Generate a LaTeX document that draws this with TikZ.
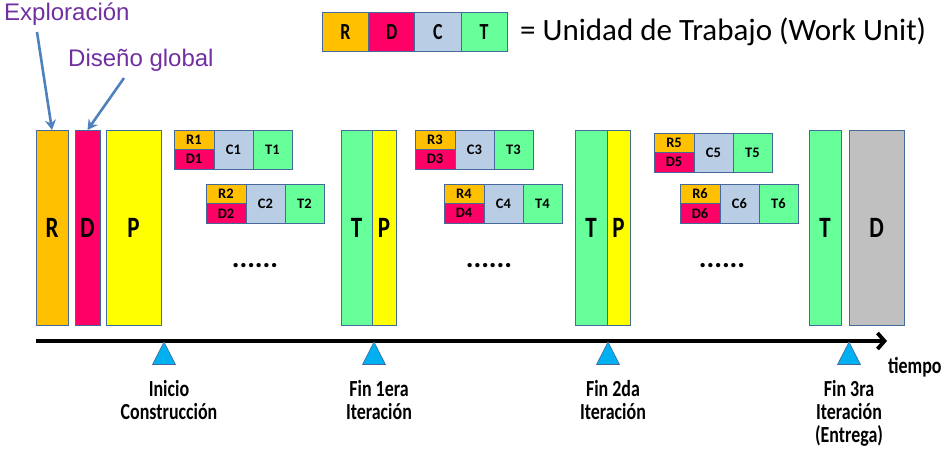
\documentclass[tikz,border=0pt]{standalone}
\usepackage{fontspec}
\setmainfont{Carlito}
\newfontfamily\condfont[FakeStretch=0.78]{Carlito}
\newfontfamily\arialfont{Liberation Sans}
\usetikzlibrary{positioning, arrows.meta}
\definecolor{orangeR}{RGB}{255,192,0}
\definecolor{magentaD}{RGB}{255,0,102}
\definecolor{blueC}{RGB}{185,205,229}
\definecolor{greenT}{RGB}{102,255,153}
\definecolor{yellowP}{RGB}{255,255,0}
\definecolor{greyD}{RGB}{192,192,192}
\definecolor{boxline}{RGB}{70,105,155}
\definecolor{skyblue}{RGB}{0,176,240}
\definecolor{purpletxt}{RGB}{112,48,160}
\definecolor{arrowblue}{RGB}{79,129,189}
\tikzset{
  wubox/.style={draw=boxline, line width=0.9pt, inner sep=0pt, outer sep=0pt, align=center,
    font=\bfseries\fontsize{14.5}{14.5}\selectfont},
  wuhalf/.style={wubox, minimum width=40pt, minimum height=19.5pt},
  wufull/.style={wubox, minimum width=39pt, minimum height=39pt},
  bar/.style={wubox, minimum height=195.5pt, font=\condfont\bfseries\fontsize{29.5}{29.5}\selectfont},
  legbox/.style={wubox, minimum width=46.25pt, minimum height=39.4pt,
    font=\condfont\bfseries\fontsize{23}{23}\selectfont},
  milestone/.style={draw=boxline, line width=0.6pt, fill=skyblue},
  milelabel/.style={align=center, inner sep=0pt, font=\condfont\bfseries\fontsize{23}{23}\selectfont},
  phasetxt/.style={text=purpletxt, inner sep=0pt, font=\arialfont\fontsize{24}{24}\selectfont},
  pointer/.style={draw=arrowblue, line width=2.6pt, -{Stealth[length=10pt, width=11pt]}},
  dots/.style={inner sep=0pt, font=\bfseries\fontsize{29}{29}\selectfont},
  timeline/.style={line width=3.8pt, -{Straight Barb[length=7pt, width=16pt]}}
}
\begin{document}
\begin{tikzpicture}[x=1pt, y=-1pt]
  \useasboundingbox (0,0) rectangle (945,453);
  % legend
  \node[legbox, fill=orangeR, anchor=north west] (lgR) at (322.3,12.3) {R};
  \node[legbox, fill=magentaD, right=0pt of lgR] (lgD) {D};
  \node[legbox, fill=blueC, right=0pt of lgD] (lgC) {C};
  \node[legbox, fill=greenT, right=0pt of lgC] (lgT) {T};
  \node[anchor=base west, inner sep=0pt, font=\fontsize{31}{31}\selectfont] (lgtxt) at (520,40) {= Unidad de Trabajo (Work Unit)};

  % phases before construction
  \node[bar, fill=orangeR, minimum width=32pt, anchor=north west] (barR) at (36,130) {R};
  \node[bar, fill=magentaD, minimum width=25pt, anchor=north west] (barD) at (75,130) {D};
  \node[bar, fill=yellowP, minimum width=55pt, anchor=north west] (barP) at (106,130) {P};

  % iteration ends
  \node[bar, fill=greenT, minimum width=31pt, anchor=north west] (barT1) at (341,130) {T};
  \node[bar, fill=yellowP, minimum width=24pt, right=0pt of barT1] (barP1) {P};
  \node[bar, fill=greenT, minimum width=32pt, anchor=north west] (barT2) at (575,130) {T};
  \node[bar, fill=yellowP, minimum width=23pt, right=0pt of barT2] (barP2) {P};
  \node[bar, fill=greenT, minimum width=32pt, anchor=north west] (barT3) at (809,130) {T};
  \node[bar, fill=greyD, minimum width=55pt, anchor=north west] (barD3) at (849,130) {D};

  % work units
  \foreach \n/\x/\y in {1/174/130, 2/206/184, 3/415/130, 4/444/184, 5/654/133, 6/680/184}{
    \node[wuhalf, fill=orangeR, anchor=north west] (r\n) at (\x,\y) {R\n};
    \node[wuhalf, fill=magentaD, below=0pt of r\n] (d\n) {D\n};
    \node[wufull, fill=blueC, anchor=north west] (c\n) at (r\n.north east) {C\n};
    \node[wufull, fill=greenT, right=0pt of c\n] (t\n) {T\n};
  }
  \foreach \n/\x in {1/255, 2/489, 3/722}{
    \node[dots, anchor=base] (gap\n) at (\x,267) {......};
  }

  % time axis
  \coordinate (t0) at (36,341);
  \coordinate (t1) at (887,341);
  \draw[timeline] (t0) -- (t1);
  \foreach \x in {164, 374, 608, 849}{
    \draw[milestone] (\x,342) -- (\x+11.5,364.5) -- (\x-11.5,364.5) -- cycle;
  }
  \node[milelabel, anchor=north] (ms1) at (169,380) {Inicio\\Construcción};
  \node[milelabel, anchor=north] (ms2) at (379,380) {Fin 1era\\Iteración};
  \node[milelabel, anchor=north] (ms3) at (613,380) {Fin 2da\\Iteración};
  \node[milelabel, anchor=north] (ms4) at (849,380) {Fin 3ra\\Iteración\\(Entrega)};
  \node[milelabel, anchor=west] (tiempo) at (888,367) {tiempo};

  % phase labels
  \node[phasetxt, anchor=base west] (explo) at (4,20) {Exploración};
  \node[phasetxt, anchor=base west] (diseno) at (68,66.7) {Diseño global};
  \coordinate (explotail) at (37,32);
  \coordinate (disenotail) at (124,78);
  \draw[pointer] (explotail) -- (barR.north);
  \draw[pointer] (disenotail) -- (barD.north);
\end{tikzpicture}
\end{document}
